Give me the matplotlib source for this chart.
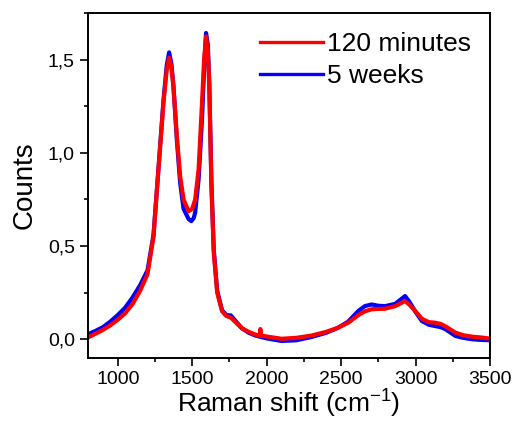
import matplotlib
matplotlib.use("Agg")
import matplotlib.pyplot as plt
from matplotlib.ticker import MultipleLocator, FuncFormatter

plt.rcParams['font.family'] = ['Liberation Sans', 'DejaVu Sans']
plt.rcParams['mathtext.fontset'] = 'custom'
plt.rcParams['mathtext.rm'] = 'Liberation Sans'
plt.rcParams['mathtext.it'] = 'Liberation Sans'

# ---- data ----
# 120 minutes (red)
x_120 = [800, 850, 900, 950, 1000, 1050, 1100, 1150, 1200, 1240, 1273, 1307, 1329,
         1345, 1360, 1374, 1397, 1419, 1442, 1476, 1500, 1520, 1543, 1566, 1580,
         1593, 1605, 1615, 1629, 1645, 1668, 1701, 1730, 1760, 1800, 1836, 1880,
         1926, 1954, 1958, 1962, 2000, 2100, 2200, 2300, 2400, 2480, 2548, 2616,
         2660, 2705, 2750, 2795, 2863, 2930, 2960, 2998, 3043, 3090, 3133, 3170,
         3200, 3268, 3320, 3381, 3440, 3500]
y_120 = [0.010, 0.030, 0.050, 0.075, 0.105, 0.140, 0.190, 0.260, 0.350, 0.550, 0.910, 1.270, 1.446,
         1.510, 1.460, 1.357, 1.090, 0.875, 0.750, 0.687, 0.700, 0.750, 0.910, 1.270, 1.500,
         1.625, 1.550, 1.357, 0.820, 0.465, 0.250, 0.150, 0.125, 0.116, 0.085, 0.058, 0.040,
         0.025, 0.020, 0.055, 0.020, 0.015, 0.003, 0.008, 0.020, 0.040, 0.062, 0.089, 0.130,
         0.150, 0.161, 0.163, 0.164, 0.178, 0.205, 0.185, 0.152, 0.110, 0.092, 0.089, 0.082,
         0.070, 0.036, 0.022, 0.014, 0.010, 0.004]

# 5 weeks (blue)
x_5w = [800, 850, 900, 950, 1000, 1050, 1100, 1150, 1200, 1240, 1273, 1307, 1329,
        1345, 1360, 1374, 1397, 1419, 1442, 1476, 1494, 1510, 1520, 1543, 1566, 1580,
        1593, 1605, 1615, 1629, 1645, 1668, 1701, 1730, 1760, 1800, 1836, 1880,
        1926, 2000, 2100, 2200, 2300, 2400, 2480, 2548, 2616, 2660, 2705, 2750,
        2795, 2863, 2930, 2960, 2998, 3043, 3090, 3133, 3170, 3200, 3268, 3320,
        3381, 3440, 3500]
y_5w = [0.027, 0.045, 0.065, 0.095, 0.130, 0.170, 0.225, 0.290, 0.370, 0.560, 0.910, 1.280, 1.470,
        1.539, 1.480, 1.360, 1.070, 0.840, 0.700, 0.645, 0.634, 0.650, 0.680, 0.857, 1.180, 1.450,
        1.643, 1.580, 1.370, 0.850, 0.480, 0.260, 0.155, 0.130, 0.128, 0.090, 0.058, 0.035,
        0.020, 0.005, -0.009, -0.005, 0.012, 0.035, 0.062, 0.095, 0.152, 0.178, 0.187, 0.180,
        0.178, 0.190, 0.232, 0.200, 0.150, 0.098, 0.078, 0.071, 0.065, 0.055, 0.018, 0.008,
        0.000, -0.003, -0.005]

fig = plt.figure(figsize=(5.16, 4.36), dpi=100)
ax = fig.add_axes([0.1705, 0.179, 0.779, 0.791])

l_blue, = ax.plot(x_5w, y_5w, color='#0000ff', lw=3.0, label='5 weeks')
l_red, = ax.plot(x_120, y_120, color='#ff0000', lw=3.0, label='120 minutes')

ax.set_xlim(800, 3500)
ax.set_ylim(-0.1, 1.75)
ax.xaxis.set_major_locator(MultipleLocator(500))
ax.xaxis.set_minor_locator(MultipleLocator(250))
ax.yaxis.set_major_locator(MultipleLocator(0.5))
ax.yaxis.set_minor_locator(MultipleLocator(0.25))
ax.yaxis.set_major_formatter(FuncFormatter(lambda v, p: ('%.1f' % v).replace('.', ',')))
ax.tick_params(which='major', direction='out', length=5.5, width=1.2, labelsize=14, pad=4)
ax.tick_params(which='minor', direction='out', length=2.8, width=1.2)
for s in ax.spines.values():
    s.set_linewidth(1.4)

ax.set_xlabel('Raman shift (cm$^{-1}$)', fontsize=19, labelpad=0)
ax.set_ylabel('Counts', fontsize=20, labelpad=7)

leg = ax.legend(handles=[l_red, l_blue], loc='upper left', bbox_to_anchor=(0.428, 0.945),
                frameon=False, fontsize=19, handlelength=2.4, handletextpad=0.15,
                labelspacing=0.3, borderpad=0, borderaxespad=0)
for h in leg.get_lines():
    h.set_linewidth(2.4)

fig.savefig('out.png', dpi=100)
